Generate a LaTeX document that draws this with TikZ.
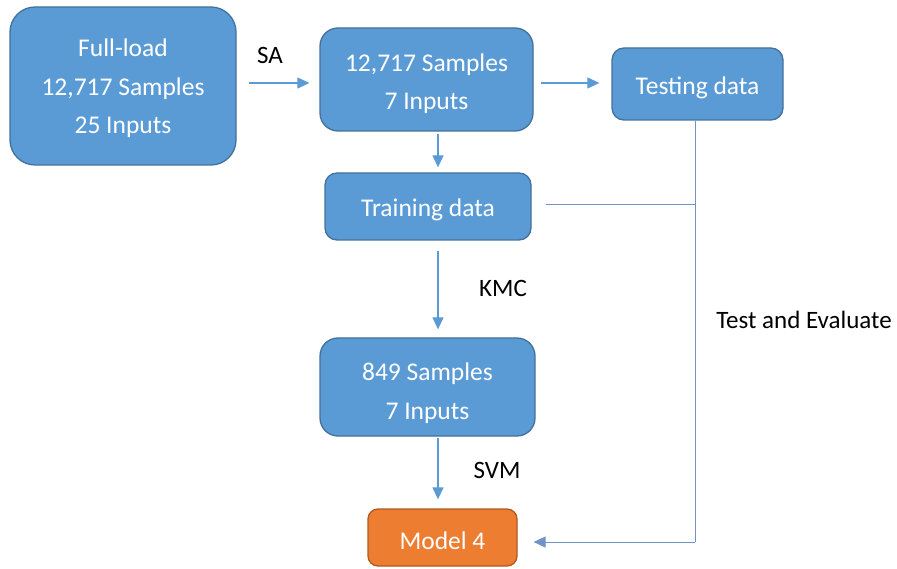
\documentclass[tikz,border=0pt]{standalone}
\usepackage{fontspec}
\setmainfont{Carlito}
\usetikzlibrary{arrows.meta}
\definecolor{boxblue}{HTML}{5B9BD5}
\definecolor{boxedge}{HTML}{41719C}
\definecolor{boxorange}{HTML}{ED7D31}
\definecolor{orangeedge}{HTML}{AE5A21}
\definecolor{fbline}{HTML}{6F93C6}
\newcommand{\toppad}{\rule{0pt}{25pt}}
\begin{document}
\begin{tikzpicture}[x=1pt,y=-1pt,
  box/.style={draw=boxedge,line width=1.3pt,fill=boxblue,text=white,align=center,
    font=\fontsize{25.5}{38.5}\selectfont,inner sep=0pt,execute at begin node=\toppad},
  lbl/.style={text=black,font=\fontsize{25}{28}\selectfont,inner sep=0pt},
  arr/.style={draw=boxblue,line width=1.2pt,-{Triangle[length=12pt,width=11pt]}},
  fb/.style={draw=fbline,line width=1pt}]
\useasboundingbox (0,0) rectangle (897,569);
\node[box,minimum width=226pt,minimum height=158pt,rounded corners=25pt] (full) at (123,86) {\rule{0pt}{23pt}Full-load\\12,717 Samples\\25 Inputs};
\node[box,minimum width=213pt,minimum height=103pt,rounded corners=18pt] (red) at (426.5,79.5) {\rule{0pt}{26pt}12,717 Samples\\7 Inputs};
\node[box,minimum width=171pt,minimum height=72pt,rounded corners=12pt] (test) at (697.5,84) {Testing data};
\node[box,minimum width=206pt,minimum height=67pt,rounded corners=12pt] (train) at (428,206.5) {Training data};
\node[box,minimum width=215pt,minimum height=98pt,rounded corners=18pt] (km) at (427.5,387) {\rule{0pt}{30pt}849 Samples\\7 Inputs};
\node[box,draw=orangeedge,fill=boxorange,minimum width=149pt,minimum height=57pt,rounded corners=10pt] (model) at (442.5,537.5) {Model 4};

\node[lbl] (sa) at (270,55) {SA};
\node[lbl] (kmc) at (503,288) {KMC};
\node[lbl] (svm) at (497,470) {SVM};
\node[lbl] (te) at (804,320) {Test and Evaluate};

\draw[arr,shorten <=12pt,shorten >=10pt] (full.east |- 0,83) -- (red.west |- 0,83);
\draw[arr,shorten <=7pt,shorten >=12pt] (red.east |- 0,83) -- (test.west |- 0,83);
\draw[arr,shorten <=2pt,shorten >=5pt] ([xshift=11.5pt]red.south) -- ([xshift=10pt]train.north);
\draw[arr,shorten <=10pt,shorten >=8pt] ([xshift=10pt]train.south) -- ([xshift=10.5pt]km.north);
\draw[arr,shorten <=1pt,shorten >=9pt] ([xshift=10.5pt]km.south) -- ([xshift=-4.5pt]model.north);

\coordinate (tb) at (695,542);
\draw[fb] (test.south -| tb) -- (tb);
\draw[fb] ([xshift=14pt]train.east |- 0,205) -- (tb |- 0,205);
\draw[arr,draw=fbline,line width=1pt,shorten >=16pt] (tb) -- (model.east |- tb);
\end{tikzpicture}
\end{document}
